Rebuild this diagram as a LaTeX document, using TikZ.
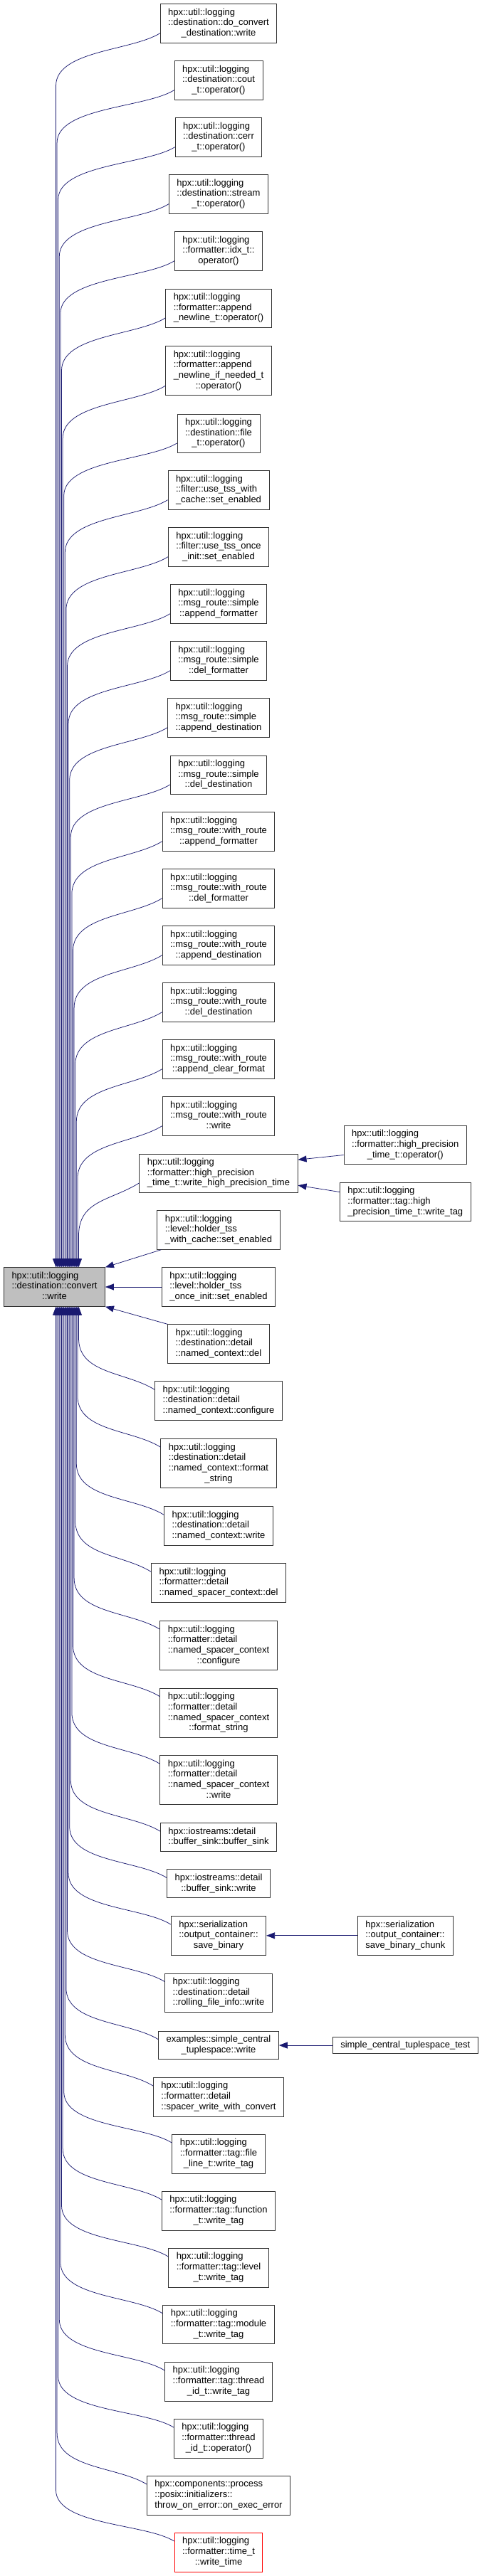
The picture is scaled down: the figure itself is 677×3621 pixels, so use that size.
\documentclass[tikz,border=0pt]{standalone}
\usepackage{fontspec}
\setmainfont{Liberation Sans}
\usetikzlibrary{arrows.meta,calc}
\definecolor{edgeblue}{RGB}{25,25,112}
\definecolor{mainfill}{RGB}{191,191,191}
\newcommand{\lbl}[2]{\begin{tabular}{@{}l@{}}#1\\\multicolumn{1}{@{}c@{}}{#2}\end{tabular}}

\begin{document}
\begin{tikzpicture}[x=1pt, y=1pt, >={Triangle[length=12pt,width=9pt]},
    fn/.style={draw=black!80, line width=0.9pt, fill=white, inner xsep=11pt, inner ysep=5.2pt, font=\fontsize{13}{14.7}\selectfont},
    edge/.style={draw=edgeblue, line width=0.75pt, ->}]
    \useasboundingbox (0,0) rectangle (677,-3621);
    % The function itself
    \node[fn, fill=mainfill] (main) at (76.5,-1809) {\lbl{hpx::util::logging\\::destination::convert}{::write}};
    % Callers above
    \node[fn] (dcw) at (307,-33) {\lbl{hpx::util::logging\\::destination::do\_convert}{\_destination::write}};
    \node[fn] (cout) at (307,-113) {\lbl{hpx::util::logging\\::destination::cout}{\_t::operator()}};
    \node[fn] (cerr) at (307,-193) {\lbl{hpx::util::logging\\::destination::cerr}{\_t::operator()}};
    \node[fn] (stream) at (307,-273) {\lbl{hpx::util::logging\\::destination::stream}{\_t::operator()}};
    \node[fn] (idx) at (307,-353) {\lbl{hpx::util::logging\\::formatter::idx\_t::}{operator()}};
    \node[fn] (anl) at (307,-433.2) {\lbl{hpx::util::logging\\::formatter::append}{\_newline\_t::operator()}};
    \node[fn] (anln) at (307,-521.2) {\lbl{hpx::util::logging\\::formatter::append\\\_newline\_if\_needed\_t}{::operator()}};
    \node[fn] (file) at (307,-609.2) {\lbl{hpx::util::logging\\::destination::file}{\_t::operator()}};
    \node[fn] (twc) at (307,-689) {\lbl{hpx::util::logging\\::filter::use\_tss\_with}{\_cache::set\_enabled}};
    \node[fn] (toi) at (307,-769) {\lbl{hpx::util::logging\\::filter::use\_tss\_once}{\_init::set\_enabled}};
    \node[fn] (saf) at (307,-849) {\lbl{hpx::util::logging\\::msg\_route::simple}{::append\_formatter}};
    \node[fn] (sdf) at (307,-929) {\lbl{hpx::util::logging\\::msg\_route::simple}{::del\_formatter}};
    \node[fn] (sad) at (307,-1009) {\lbl{hpx::util::logging\\::msg\_route::simple}{::append\_destination}};
    \node[fn] (sdd) at (307,-1089.2) {\lbl{hpx::util::logging\\::msg\_route::simple}{::del\_destination}};
    \node[fn] (waf) at (307,-1169) {\lbl{hpx::util::logging\\::msg\_route::with\_route}{::append\_formatter}};
    \node[fn] (wdf) at (307,-1249) {\lbl{hpx::util::logging\\::msg\_route::with\_route}{::del\_formatter}};
    \node[fn] (wad) at (307,-1329) {\lbl{hpx::util::logging\\::msg\_route::with\_route}{::append\_destination}};
    \node[fn] (wdd) at (307,-1409) {\lbl{hpx::util::logging\\::msg\_route::with\_route}{::del\_destination}};
    \node[fn] (wacf) at (307,-1489) {\lbl{hpx::util::logging\\::msg\_route::with\_route}{::append\_clear\_format}};
    \node[fn] (ww) at (307,-1569) {\lbl{hpx::util::logging\\::msg\_route::with\_route}{::write}};
    \node[fn] (hp) at (307,-1649.2) {\lbl{hpx::util::logging\\::formatter::high\_precision}{\_time\_t::write\_high\_precision\_time}};
    % Callers beside
    \node[fn] (hwc) at (307,-1729) {\lbl{hpx::util::logging\\::level::holder\_tss}{\_with\_cache::set\_enabled}};
    \node[fn] (hoi) at (307,-1809) {\lbl{hpx::util::logging\\::level::holder\_tss}{\_once\_init::set\_enabled}};
    \node[fn] (ncdel) at (307,-1889) {\lbl{hpx::util::logging\\::destination::detail}{::named\_context::del}};
    % Callers below
    \node[fn] (nccfg) at (307,-1969) {\lbl{hpx::util::logging\\::destination::detail}{::named\_context::configure}};
    \node[fn] (ncfmt) at (307,-2057.2) {\lbl{hpx::util::logging\\::destination::detail\\::named\_context::format}{\_string}};
    \node[fn] (ncw) at (307,-2145) {\lbl{hpx::util::logging\\::destination::detail}{::named\_context::write}};
    \node[fn] (nsdel) at (307,-2225) {\lbl{hpx::util::logging\\::formatter::detail}{::named\_spacer\_context::del}};
    \node[fn] (nscfg) at (307,-2313.2) {\lbl{hpx::util::logging\\::formatter::detail\\::named\_spacer\_context}{::configure}};
    \node[fn] (nsfmt) at (307,-2407.7) {\lbl{hpx::util::logging\\::formatter::detail\\::named\_spacer\_context}{::format\_string}};
    \node[fn] (nsw) at (307,-2502.3) {\lbl{hpx::util::logging\\::formatter::detail\\::named\_spacer\_context}{::write}};
    \node[fn] (bsbs) at (307,-2582.5) {\lbl{hpx::iostreams::detail}{::buffer\_sink::buffer\_sink}};
    \node[fn] (bsw) at (307,-2647.8) {\lbl{hpx::iostreams::detail}{::buffer\_sink::write}};
    \node[fn] (sbin) at (307,-2720.8) {\lbl{hpx::serialization\\::output\_container::}{save\_binary}};
    \node[fn] (rfw) at (307,-2801.2) {\lbl{hpx::util::logging\\::destination::detail}{::rolling\_file\_info::write}};
    \node[fn] (sctw) at (307,-2875) {\lbl{examples::simple\_central}{\_tuplespace::write}};
    \node[fn] (swc) at (307,-2947.7) {\lbl{hpx::util::logging\\::formatter::detail}{::spacer\_write\_with\_convert}};
    \node[fn] (tfile) at (307,-3027.7) {\lbl{hpx::util::logging\\::formatter::tag::file}{\_line\_t::write\_tag}};
    \node[fn] (tfunc) at (307,-3107.7) {\lbl{hpx::util::logging\\::formatter::tag::function}{\_t::write\_tag}};
    \node[fn] (tlevel) at (307,-3187.7) {\lbl{hpx::util::logging\\::formatter::tag::level}{\_t::write\_tag}};
    \node[fn] (tmod) at (307,-3267.5) {\lbl{hpx::util::logging\\::formatter::tag::module}{\_t::write\_tag}};
    \node[fn] (tthr) at (307,-3347.7) {\lbl{hpx::util::logging\\::formatter::tag::thread}{\_id\_t::write\_tag}};
    \node[fn] (thrid) at (307,-3427.7) {\lbl{hpx::util::logging\\::formatter::thread}{\_id\_t::operator()}};
    \node[fn] (oee) at (307,-3507.7) {\lbl{hpx::components::process\\::posix::initializers::}{throw\_on\_error::on\_exec\_error}};
    \node[fn, draw=red] (timew) at (307,-3587.7) {\lbl{hpx::util::logging\\::formatter::time\_t}{::write\_time}};
    % Second level callers
    \node[fn] (hpop) at (569.3,-1609.5) {\lbl{hpx::util::logging\\::formatter::high\_precision}{\_time\_t::operator()}};
    \node[fn] (hpwt) at (569.3,-1689.5) {\lbl{hpx::util::logging\\::formatter::tag::high}{\_precision\_time\_t::write\_tag}};
    \node[fn] (sbc) at (569.3,-2720.8) {\lbl{hpx::serialization\\::output\_container::}{save\_binary\_chunk}};
    \node[fn] (sct) at (569.3,-2875) {simple\_central\_tuplespace\_test};
    % Edges into the top of convert::write
    \draw[edge] ([yshift=14pt]dcw.south west) .. controls +(-40,-25) and +(0,50) .. ($(dcw.south west -| main.north)+(2,-60)$) -- ([xshift=2pt]main.north);
    \draw[edge] ([yshift=14pt]cout.south west) .. controls +(-40,-25) and +(0,50) .. ($(cout.south west -| main.north)+(3.6,-60)$) -- ([xshift=3.6pt]main.north);
    \draw[edge] ([yshift=14pt]cerr.south west) .. controls +(-40,-25) and +(0,50) .. ($(cerr.south west -| main.north)+(5.2,-60)$) -- ([xshift=5.2pt]main.north);
    \draw[edge] ([yshift=14pt]stream.south west) .. controls +(-40,-25) and +(0,50) .. ($(stream.south west -| main.north)+(6.8,-60)$) -- ([xshift=6.8pt]main.north);
    \draw[edge] ([yshift=14pt]idx.south west) .. controls +(-40,-25) and +(0,50) .. ($(idx.south west -| main.north)+(8.4,-60)$) -- ([xshift=8.4pt]main.north);
    \draw[edge] ([yshift=14pt]anl.south west) .. controls +(-40,-25) and +(0,50) .. ($(anl.south west -| main.north)+(10,-60)$) -- ([xshift=10pt]main.north);
    \draw[edge] ([yshift=14pt]anln.south west) .. controls +(-40,-25) and +(0,50) .. ($(anln.south west -| main.north)+(11.6,-60)$) -- ([xshift=11.6pt]main.north);
    \draw[edge] ([yshift=14pt]file.south west) .. controls +(-40,-25) and +(0,50) .. ($(file.south west -| main.north)+(13.2,-60)$) -- ([xshift=13.2pt]main.north);
    \draw[edge] ([yshift=14pt]twc.south west) .. controls +(-40,-25) and +(0,50) .. ($(twc.south west -| main.north)+(14.8,-60)$) -- ([xshift=14.8pt]main.north);
    \draw[edge] ([yshift=14pt]toi.south west) .. controls +(-40,-25) and +(0,50) .. ($(toi.south west -| main.north)+(16.4,-60)$) -- ([xshift=16.4pt]main.north);
    \draw[edge] ([yshift=14pt]saf.south west) .. controls +(-40,-25) and +(0,50) .. ($(saf.south west -| main.north)+(18,-60)$) -- ([xshift=18pt]main.north);
    \draw[edge] ([yshift=14pt]sdf.south west) .. controls +(-40,-25) and +(0,50) .. ($(sdf.south west -| main.north)+(19.6,-60)$) -- ([xshift=19.6pt]main.north);
    \draw[edge] ([yshift=14pt]sad.south west) .. controls +(-40,-25) and +(0,50) .. ($(sad.south west -| main.north)+(21.2,-60)$) -- ([xshift=21.2pt]main.north);
    \draw[edge] ([yshift=14pt]sdd.south west) .. controls +(-40,-25) and +(0,50) .. ($(sdd.south west -| main.north)+(22.8,-60)$) -- ([xshift=22.8pt]main.north);
    \draw[edge] ([yshift=14pt]waf.south west) .. controls +(-40,-25) and +(0,50) .. ($(waf.south west -| main.north)+(24.4,-60)$) -- ([xshift=24.4pt]main.north);
    \draw[edge] ([yshift=14pt]wdf.south west) .. controls +(-40,-25) and +(0,50) .. ($(wdf.south west -| main.north)+(26,-60)$) -- ([xshift=26pt]main.north);
    \draw[edge] ([yshift=14pt]wad.south west) .. controls +(-40,-25) and +(0,50) .. ($(wad.south west -| main.north)+(27.6,-60)$) -- ([xshift=27.6pt]main.north);
    \draw[edge] ([yshift=14pt]wdd.south west) .. controls +(-40,-25) and +(0,50) .. ($(wdd.south west -| main.north)+(29.2,-60)$) -- ([xshift=29.2pt]main.north);
    \draw[edge] ([yshift=14pt]wacf.south west) .. controls +(-40,-25) and +(0,50) .. ($(wacf.south west -| main.north)+(30.8,-60)$) -- ([xshift=30.8pt]main.north);
    \draw[edge] ([yshift=14pt]ww.south west) .. controls +(-40,-25) and +(0,50) .. ($(ww.south west -| main.north)+(32.4,-60)$) -- ([xshift=32.4pt]main.north);
    \draw[edge] ([yshift=14pt]hp.south west) .. controls +(-40,-25) and +(0,50) .. ($(hp.south west -| main.north)+(34,-60)$) -- ([xshift=34pt]main.north);
    % Edges into the side
    \draw[edge] ([xshift=6pt]hwc.south west) -- (main.north east);
    \draw[edge] (hoi.west) -- (main.east);
    \draw[edge] (ncdel.north west) -- (main.south east);
    % Edges into the bottom
    \draw[edge] ([yshift=-12pt]nccfg.north west) .. controls +(-40,25) and +(0,-50) .. ($(nccfg.north west -| main.south)+(34,60)$) -- ([xshift=34pt]main.south);
    \draw[edge] ([yshift=-12pt]ncfmt.north west) .. controls +(-40,25) and +(0,-50) .. ($(ncfmt.north west -| main.south)+(32.4,60)$) -- ([xshift=32.4pt]main.south);
    \draw[edge] ([yshift=-12pt]ncw.north west) .. controls +(-40,25) and +(0,-50) .. ($(ncw.north west -| main.south)+(30.8,60)$) -- ([xshift=30.8pt]main.south);
    \draw[edge] ([yshift=-12pt]nsdel.north west) .. controls +(-40,25) and +(0,-50) .. ($(nsdel.north west -| main.south)+(29.2,60)$) -- ([xshift=29.2pt]main.south);
    \draw[edge] ([yshift=-12pt]nscfg.north west) .. controls +(-40,25) and +(0,-50) .. ($(nscfg.north west -| main.south)+(27.6,60)$) -- ([xshift=27.6pt]main.south);
    \draw[edge] ([yshift=-12pt]nsfmt.north west) .. controls +(-40,25) and +(0,-50) .. ($(nsfmt.north west -| main.south)+(26,60)$) -- ([xshift=26pt]main.south);
    \draw[edge] ([yshift=-12pt]nsw.north west) .. controls +(-40,25) and +(0,-50) .. ($(nsw.north west -| main.south)+(24.4,60)$) -- ([xshift=24.4pt]main.south);
    \draw[edge] ([yshift=-12pt]bsbs.north west) .. controls +(-40,25) and +(0,-50) .. ($(bsbs.north west -| main.south)+(22.8,60)$) -- ([xshift=22.8pt]main.south);
    \draw[edge] ([yshift=-12pt]bsw.north west) .. controls +(-40,25) and +(0,-50) .. ($(bsw.north west -| main.south)+(21.2,60)$) -- ([xshift=21.2pt]main.south);
    \draw[edge] ([yshift=-12pt]sbin.north west) .. controls +(-40,25) and +(0,-50) .. ($(sbin.north west -| main.south)+(19.6,60)$) -- ([xshift=19.6pt]main.south);
    \draw[edge] ([yshift=-12pt]rfw.north west) .. controls +(-40,25) and +(0,-50) .. ($(rfw.north west -| main.south)+(18,60)$) -- ([xshift=18pt]main.south);
    \draw[edge] ([yshift=-12pt]sctw.north west) .. controls +(-40,25) and +(0,-50) .. ($(sctw.north west -| main.south)+(16.4,60)$) -- ([xshift=16.4pt]main.south);
    \draw[edge] ([yshift=-12pt]swc.north west) .. controls +(-40,25) and +(0,-50) .. ($(swc.north west -| main.south)+(14.8,60)$) -- ([xshift=14.8pt]main.south);
    \draw[edge] ([yshift=-12pt]tfile.north west) .. controls +(-40,25) and +(0,-50) .. ($(tfile.north west -| main.south)+(13.2,60)$) -- ([xshift=13.2pt]main.south);
    \draw[edge] ([yshift=-12pt]tfunc.north west) .. controls +(-40,25) and +(0,-50) .. ($(tfunc.north west -| main.south)+(11.6,60)$) -- ([xshift=11.6pt]main.south);
    \draw[edge] ([yshift=-12pt]tlevel.north west) .. controls +(-40,25) and +(0,-50) .. ($(tlevel.north west -| main.south)+(10,60)$) -- ([xshift=10pt]main.south);
    \draw[edge] ([yshift=-12pt]tmod.north west) .. controls +(-40,25) and +(0,-50) .. ($(tmod.north west -| main.south)+(8.4,60)$) -- ([xshift=8.4pt]main.south);
    \draw[edge] ([yshift=-12pt]tthr.north west) .. controls +(-40,25) and +(0,-50) .. ($(tthr.north west -| main.south)+(6.8,60)$) -- ([xshift=6.8pt]main.south);
    \draw[edge] ([yshift=-12pt]thrid.north west) .. controls +(-40,25) and +(0,-50) .. ($(thrid.north west -| main.south)+(5.2,60)$) -- ([xshift=5.2pt]main.south);
    \draw[edge] ([yshift=-12pt]oee.north west) .. controls +(-40,25) and +(0,-50) .. ($(oee.north west -| main.south)+(3.6,60)$) -- ([xshift=3.6pt]main.south);
    \draw[edge] ([yshift=-12pt]timew.north west) .. controls +(-40,25) and +(0,-50) .. ($(timew.north west -| main.south)+(2,60)$) -- ([xshift=2pt]main.south);
    % Second level edges
    \draw[edge] ([yshift=-14pt]hpop.west) -- ([yshift=19pt]hp.east);
    \draw[edge] ([yshift=14pt]hpwt.west) -- ([yshift=-17pt]hp.east);
    \draw[edge] (sbc.west) -- (sbin.east);
    \draw[edge] (sct.west) -- (sctw.east);
\end{tikzpicture}
\end{document}
